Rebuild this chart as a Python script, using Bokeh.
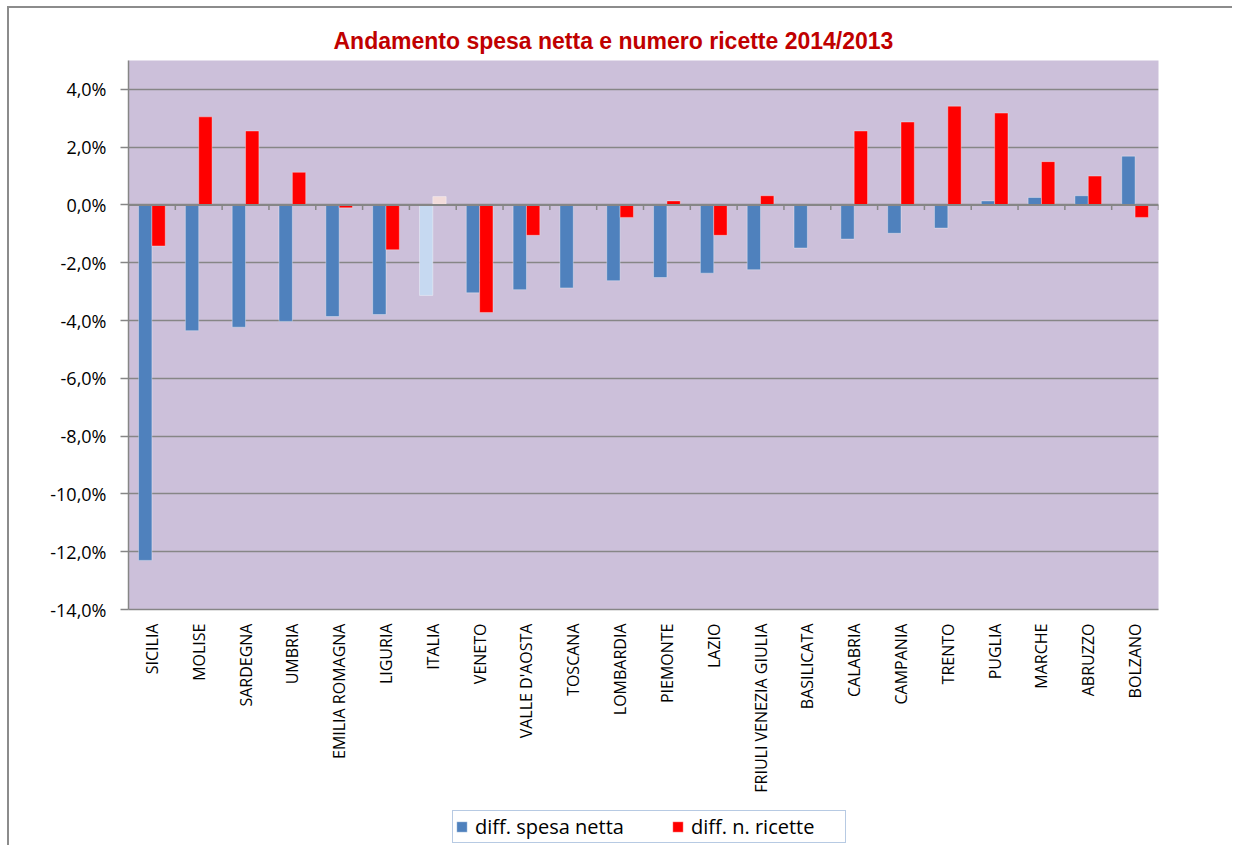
import math
from bokeh.plotting import figure
from bokeh.layouts import column
from bokeh.models import (FactorRange, Range1d, FixedTicker, ColumnDataSource,
                          Legend, LegendItem, Span)
from bokeh.transform import dodge
from bokeh.embed import file_html
from bokeh.resources import INLINE

# ---------------- data ----------------
categories = ["SICILIA", "MOLISE", "SARDEGNA", "UMBRIA", "EMILIA ROMAGNA", "LIGURIA",
              "ITALIA", "VENETO", "VALLE D'AOSTA", "TOSCANA", "LOMBARDIA", "PIEMONTE",
              "LAZIO", "FRIULI VENEZIA GIULIA", "BASILICATA", "CALABRIA", "CAMPANIA",
              "TRENTO", "PUGLIA", "MARCHE", "ABRUZZO", "BOLZANO"]
spesa_netta = [-12.30, -4.35, -4.23, -4.03, -3.86, -3.79, -3.13, -3.04, -2.93, -2.87,
               -2.62, -2.51, -2.36, -2.24, -1.49, -1.18, -0.98, -0.80, 0.14, 0.26,
               0.32, 1.69]
n_ricette = [-1.42, 3.05, 2.56, 1.13, -0.10, -1.55, 0.29, -3.72, -1.05, 0.00,
             -0.43, 0.14, -1.05, 0.32, 0.00, 2.56, 2.87, 3.42, 3.18, 1.50,
             1.00, -0.43]
y_ticks = [-14, -12, -10, -8, -6, -4, -2, 0, 2, 4]
y_tick_labels = ["-14,0%", "-12,0%", "-10,0%", "-8,0%", "-6,0%", "-4,0%", "-2,0%",
                 "0,0%", "2,0%", "4,0%"]
y_min, y_max = -14, 5
series_names = ["diff. spesa netta", "diff. n. ricette"]
title_text = "Andamento spesa  netta e numero ricette 2014/2013"
highlight = "ITALIA"

# ---------------- styles ----------------
BLUE, RED = "#4F81BD", "#FF0000"
BLUE_LIGHT, RED_LIGHT = "#C6D9F1", "#F2DCDB"
GRID = "#868686"
EDGE = "#8c8c8c"
W = 1232
H1, H2 = 809, 36
LEFT, TOP = 128, 60
RIGHT = W - 1158
BOTTOM = H1 - 609
frame_h = H1 - TOP - BOTTOM
px_per_unit = frame_h / (y_max - y_min)

source = ColumnDataSource(dict(
    cat=categories,
    spesa=spesa_netta,
    ricette=n_ricette,
    spesa_color=[BLUE_LIGHT if c == highlight else BLUE for c in categories],
    ricette_color=[RED_LIGHT if c == highlight else RED for c in categories],
))

p = figure(width=W, height=H1,
           x_range=FactorRange(factors=categories, range_padding=0, factor_padding=0),
           y_range=Range1d(y_min, y_max),
           output_backend="svg", toolbar_location=None,
           min_border_left=LEFT, min_border_right=RIGHT,
           min_border_top=TOP, min_border_bottom=BOTTOM)
# outer chart border (top and left edges), drawn behind a transparent canvas border
p.styles = {
    "background-color": "white",
    "background-image": f"linear-gradient({EDGE}, {EDGE}), linear-gradient({EDGE}, {EDGE})",
    "background-size": "100% 2px, 2px 100%",
    "background-position": "8px 6px, 7px 6px",
    "background-repeat": "no-repeat",
}

p.background_fill_color = "#CCC0DA"
p.border_fill_color = None
p.outline_line_color = None

# title
p.title.text = title_text
p.title.text_font = "Liberation Sans"
p.title.text_font_style = "bold"
p.title.text_font_size = "23px"
p.title.text_color = "#C00000"
p.title.align = "left"
p.title.offset = 205
p.title.standoff = 14

# grid
p.xgrid.grid_line_color = None
p.ygrid.ticker = FixedTicker(ticks=y_ticks)
p.ygrid.grid_line_color = GRID
p.ygrid.grid_line_width = 1.5

# y axis
p.yaxis.ticker = FixedTicker(ticks=y_ticks)
p.yaxis.major_label_overrides = {t: l for t, l in zip(y_ticks, y_tick_labels)}
p.yaxis.axis_line_color = GRID
p.yaxis.axis_line_width = 1.5
p.yaxis.major_tick_line_color = GRID
p.yaxis.major_tick_line_width = 1.5
p.yaxis.major_tick_out = 8
p.yaxis.major_tick_in = 0
p.yaxis.minor_tick_line_color = None
p.yaxis.major_label_text_font = "Open Sans"
p.yaxis.major_label_text_font_size = "18px"
p.yaxis.major_label_text_color = "black"
p.yaxis.major_label_standoff = 14

# x axis
p.xaxis.axis_line_color = GRID
p.xaxis.axis_line_width = 1.5
p.xaxis.major_tick_line_color = None
p.xaxis.major_tick_out = 0
p.xaxis.major_tick_in = 0
p.xaxis.major_label_orientation = math.pi / 2
p.xaxis.major_label_text_font = "Open Sans"
p.xaxis.major_label_text_font_size = "16px"
p.xaxis.major_label_text_color = "black"
p.xaxis.major_label_standoff = 14

# bars
bw = 0.285
bar_style = dict(line_color="white", line_alpha=0.35, line_width=1)
p.vbar(x=dodge("cat", -bw / 2, range=p.x_range), top="spesa", width=bw,
       fill_color="spesa_color", source=source, **bar_style)
p.vbar(x=dodge("cat", bw / 2, range=p.x_range), top="ricette", width=bw,
       fill_color="ricette_color", source=source, **bar_style)

# zero axis line with category tick marks
p.add_layout(Span(location=0, dimension="width", line_color=GRID, line_width=2,
                  level="overlay"))
bounds = list(range(len(categories) + 1))
tick_len = 5 / px_per_unit
p.segment(x0=bounds, x1=bounds, y0=[0] * len(bounds), y1=[-tick_len] * len(bounds),
          line_color=GRID, line_width=1.5)

# ---------------- legend strip (separate figure below the chart) ----------------
p2 = figure(width=W, height=H2,
            x_range=FactorRange(factors=categories, range_padding=0, factor_padding=0),
            y_range=Range1d(1000, 1001),   # keeps the series out of view: only the legend shows
            output_backend="svg", toolbar_location=None,
            min_border_left=0, min_border_right=0, min_border_top=0, min_border_bottom=0)
p2.styles = {
    "background-color": "white",
    "background-image": f"linear-gradient({EDGE}, {EDGE})",
    "background-size": "2px 100%",
    "background-position": "7px 0px",
    "background-repeat": "no-repeat",
}
p2.axis.visible = False
p2.grid.visible = False
p2.outline_line_color = None
p2.background_fill_color = None
p2.border_fill_color = None
g1 = p2.vbar(x=dodge("cat", -bw / 2, range=p2.x_range), top="spesa", width=bw,
             fill_color="spesa_color", source=source, **bar_style)
g2 = p2.vbar(x=dodge("cat", bw / 2, range=p2.x_range), top="ricette", width=bw,
             fill_color="ricette_color", source=source, **bar_style)
legend = Legend(items=[LegendItem(label=series_names[0], renderers=[g1], index=0),
                       LegendItem(label=series_names[1], renderers=[g2], index=0)],
                orientation="horizontal", location=(324, 2),
                border_line_color="#7096C8", border_line_width=1.5,
                background_fill_color="white", background_fill_alpha=1,
                padding=2, spacing=44, glyph_width=13, glyph_height=13,
                label_standoff=7, label_height=20, label_width=152,
                label_text_font="Open Sans", label_text_font_size="20px",
                label_text_color="black", margin=0)
p2.add_layout(legend, "center")

open("out.html", "w").write(file_html(column(p, p2, spacing=0), INLINE))
